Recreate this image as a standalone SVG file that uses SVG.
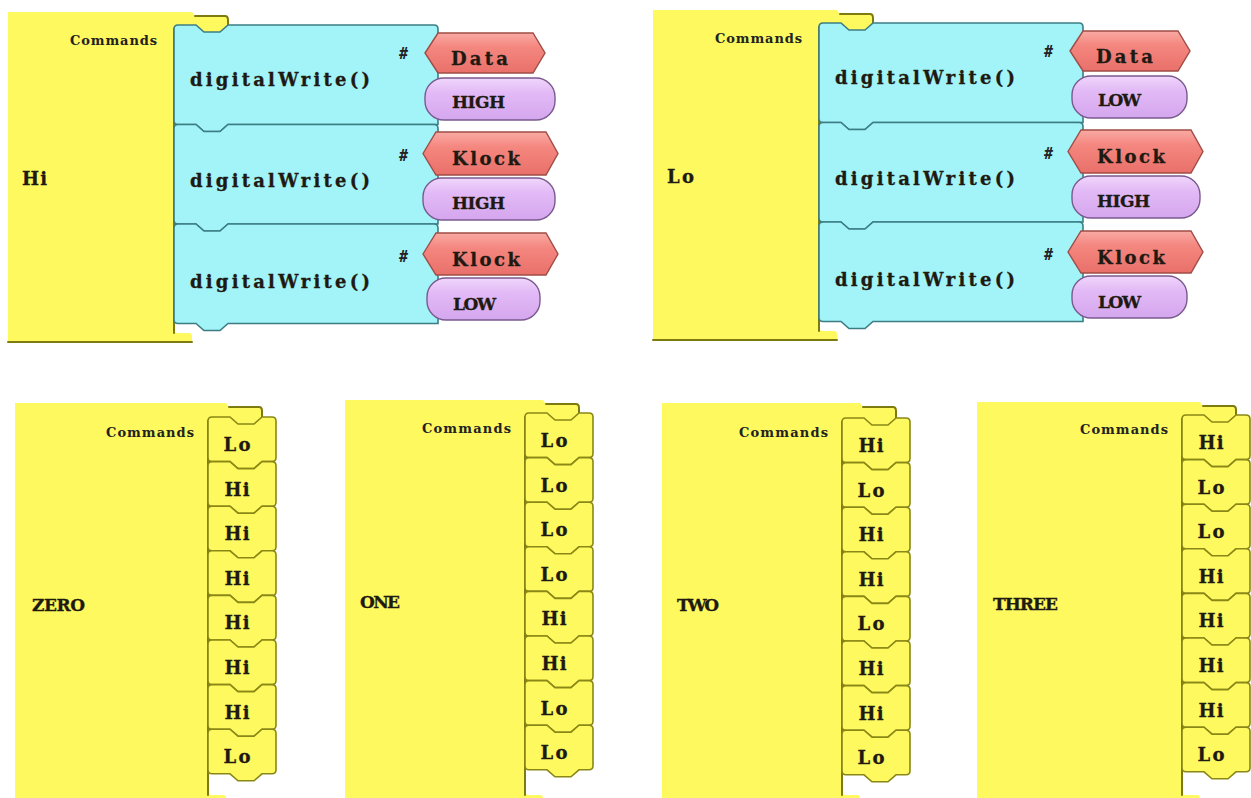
<svg xmlns="http://www.w3.org/2000/svg" width="1251" height="798" viewBox="0 0 1251 798">
<defs>
<style>
.yel{fill:#fdf95e}
.shade{fill:none;stroke:#7d7a10;stroke-width:2;stroke-linecap:round}
.cy{fill:#a2f4f8;stroke:#3c7d84;stroke-width:1.6}
.sb{fill:#fdf95e;stroke:#8a8716;stroke-width:1.6}
.hex{fill:url(#gr);stroke:#a04c46;stroke-width:1.4}
.pill{fill:url(#gp);stroke:#7a5a8e;stroke-width:1.4}
.t{font-family:"DejaVu Serif","Liberation Serif",serif;font-weight:bold;fill:#1e1a12;stroke:#1e1a12;stroke-width:0.3}
.lab{font-size:18px}
.cap{font-size:17px}
.fn{font-size:18px}
.cmd{font-family:"DejaVu Serif","Liberation Serif",serif;font-size:13px;font-weight:bold;fill:#222;text-anchor:end}
.hash{font-family:"DejaVu Sans Mono",monospace;font-size:15px;font-weight:bold;fill:#222}
.mid{text-anchor:middle}
</style>
<linearGradient id="gr" x1="0" y1="0" x2="0" y2="1"><stop offset="0" stop-color="#f9aaa4"/><stop offset="0.35" stop-color="#f4877f"/><stop offset="1" stop-color="#e9706a"/></linearGradient>
<linearGradient id="gp" x1="0" y1="0" x2="0" y2="1"><stop offset="0" stop-color="#f0d6fb"/><stop offset="0.35" stop-color="#e2baf6"/><stop offset="1" stop-color="#d5a6ee"/></linearGradient>
<path id="cyb" class="cy" d="M 0 4 Q 0 0 4 0 H 22 L 30 7 H 46 L 54 0 H 260 Q 264 0 264 4 V 99.5 H 54 L 46 106.5 H 30 L 22 99.5 H 4 Q 0 99.5 0 95.5 Z"/>
<path id="sbk" class="sb" d="M 0 4 Q 0 0 4 0 H 22 L 30 7 H 46 L 54 0 H 64 Q 68 0 68 4 V 40.6 Q 68 44.6 64 44.6 H 54 L 46 51.6 H 30 L 22 44.6 H 4 Q 0 44.6 0 40.6 Z"/>
</defs>
<rect width="1251" height="798" fill="#ffffff"/>

<!-- Top-left: Hi -->
<g id="hi-block">
<path class="yel" d="M 8 12 H 192 L 195 16 H 225 Q 228 16 228 20 V 25 L 220 32 H 204 L 196 25 H 178 Q 174 25 174 29 V 329 Q 174 333 178 333 H 189 Q 192 333 192 336 V 342 H 8 Z"/>
<path class="shade" d="M 174 29 V 333 M 8 342 H 192 M 195 16 H 225 Q 228 16 228 20 V 25"/>
<text class="cmd" x="157" y="45" textLength="87" lengthAdjust="spacing">Commands</text>
<text class="t lab" x="22" y="185" textLength="25" lengthAdjust="spacing">Hi</text>
</g>
<g id="hi-cmd1">
<use href="#cyb" x="174" y="25"/>
<text class="t fn" x="190" y="86" textLength="180" lengthAdjust="spacing">digitalWrite()</text>
<text class="hash" x="399" y="59">#</text>
<polygon class="hex" points="425,53 438,33 533,33 545,53 533,73 438,73"/>
<text class="t lab" x="451" y="65" textLength="57" lengthAdjust="spacing">Data</text>
<rect class="pill" x="425" y="78" width="130" height="42" rx="19"/>
<text class="t cap" x="452" y="108" textLength="53" lengthAdjust="spacing">HIGH</text>
</g>
<g id="hi-cmd2">
<use href="#cyb" x="174" y="124.5"/>
<text class="t fn" x="190" y="187" textLength="180" lengthAdjust="spacing">digitalWrite()</text>
<text class="hash" x="399" y="161">#</text>
<polygon class="hex" points="423,153.5 436,132 546,132 558,153.5 546,175 436,175"/>
<text class="t lab" x="452" y="165" textLength="68" lengthAdjust="spacing">Klock</text>
<rect class="pill" x="423" y="178" width="132" height="42" rx="19"/>
<text class="t cap" x="452" y="209" textLength="53" lengthAdjust="spacing">HIGH</text>
</g>
<g id="hi-cmd3">
<use href="#cyb" x="174" y="224"/>
<text class="t fn" x="190" y="288" textLength="180" lengthAdjust="spacing">digitalWrite()</text>
<text class="hash" x="399" y="262">#</text>
<polygon class="hex" points="423,254 436,233 546,233 558,254 546,275 436,275"/>
<text class="t lab" x="452" y="266" textLength="68" lengthAdjust="spacing">Klock</text>
<rect class="pill" x="427" y="278" width="113" height="42" rx="19"/>
<text class="t cap" x="453" y="310" textLength="43" lengthAdjust="spacing">LOW</text>
</g>

<!-- Top-right: Lo -->
<g transform="translate(645,-2)">
<g id="lo-block">
<path class="yel" d="M 8 12 H 192 L 195 16 H 225 Q 228 16 228 20 V 25 L 220 32 H 204 L 196 25 H 178 Q 174 25 174 29 V 329 Q 174 333 178 333 H 189 Q 192 333 192 336 V 342 H 8 Z"/>
<path class="shade" d="M 174 29 V 333 M 8 342 H 192 M 195 16 H 225 Q 228 16 228 20 V 25"/>
<text class="cmd" x="157" y="45" textLength="87" lengthAdjust="spacing">Commands</text>
<text class="t lab" x="22" y="185" textLength="27" lengthAdjust="spacing">Lo</text>
</g>
<g id="lo-cmd1">
<use href="#cyb" x="174" y="25"/>
<text class="t fn" x="190" y="86" textLength="180" lengthAdjust="spacing">digitalWrite()</text>
<text class="hash" x="399" y="59">#</text>
<polygon class="hex" points="425,53 438,33 533,33 545,53 533,73 438,73"/>
<text class="t lab" x="451" y="65" textLength="57" lengthAdjust="spacing">Data</text>
<rect class="pill" x="427" y="78" width="115" height="42" rx="19"/>
<text class="t cap" x="453" y="108" textLength="43" lengthAdjust="spacing">LOW</text>
</g>
<g id="lo-cmd2">
<use href="#cyb" x="174" y="124.5"/>
<text class="t fn" x="190" y="187" textLength="180" lengthAdjust="spacing">digitalWrite()</text>
<text class="hash" x="399" y="161">#</text>
<polygon class="hex" points="423,153.5 436,132 546,132 558,153.5 546,175 436,175"/>
<text class="t lab" x="452" y="165" textLength="68" lengthAdjust="spacing">Klock</text>
<rect class="pill" x="427" y="178" width="128" height="42" rx="19"/>
<text class="t cap" x="452" y="209" textLength="53" lengthAdjust="spacing">HIGH</text>
</g>
<g id="lo-cmd3">
<use href="#cyb" x="174" y="224"/>
<text class="t fn" x="190" y="288" textLength="180" lengthAdjust="spacing">digitalWrite()</text>
<text class="hash" x="399" y="262">#</text>
<polygon class="hex" points="423,254 436,233 546,233 558,254 546,275 436,275"/>
<text class="t lab" x="452" y="266" textLength="68" lengthAdjust="spacing">Klock</text>
<rect class="pill" x="427" y="278" width="115" height="42" rx="19"/>
<text class="t cap" x="453" y="310" textLength="43" lengthAdjust="spacing">LOW</text>
</g>
</g>

<!-- ZERO -->
<g id="zero-block">
<path class="yel" d="M 15 403 H 226 L 229 407 H 259 Q 262 407 262 411 V 417 L 254 424 H 238 L 230 417 H 212 Q 208 417 208 421 V 791 Q 208 795 212 795 H 223 Q 226 795 226 798 V 800 H 15 Z"/>
<path class="shade" d="M 208 421 V 795 M 229 407 H 259 Q 262 407 262 411 V 417"/>
<text class="cmd" x="194" y="437" textLength="88" lengthAdjust="spacing">Commands</text>
<text class="t cap" x="32" y="611" textLength="53" lengthAdjust="spacing">ZERO</text>
<use href="#sbk" x="208" y="417"/><text class="t lab mid" x="237" y="451" textLength="27" lengthAdjust="spacing">Lo</text>
<use href="#sbk" x="208" y="461.6"/><text class="t lab mid" x="237" y="495.6" textLength="25" lengthAdjust="spacing">Hi</text>
<use href="#sbk" x="208" y="506.2"/><text class="t lab mid" x="237" y="540.2" textLength="25" lengthAdjust="spacing">Hi</text>
<use href="#sbk" x="208" y="550.8"/><text class="t lab mid" x="237" y="584.8" textLength="25" lengthAdjust="spacing">Hi</text>
<use href="#sbk" x="208" y="595.4"/><text class="t lab mid" x="237" y="629.4" textLength="25" lengthAdjust="spacing">Hi</text>
<use href="#sbk" x="208" y="640"/><text class="t lab mid" x="237" y="674" textLength="25" lengthAdjust="spacing">Hi</text>
<use href="#sbk" x="208" y="684.6"/><text class="t lab mid" x="237" y="718.6" textLength="25" lengthAdjust="spacing">Hi</text>
<use href="#sbk" x="208" y="729.2"/><text class="t lab mid" x="237" y="763.2" textLength="27" lengthAdjust="spacing">Lo</text>
</g>

<!-- ONE -->
<g id="one-block">
<path class="yel" d="M 345 400 H 543 L 546 404 H 576 Q 579 404 579 408 V 413 L 571 420 H 555 L 547 413 H 529 Q 525 413 525 417 V 791 Q 525 795 529 795 H 540 Q 543 795 543 798 V 800 H 345 Z"/>
<path class="shade" d="M 525 417 V 795 M 546 404 H 576 Q 579 404 579 408 V 413"/>
<text class="cmd" x="511" y="433" textLength="89" lengthAdjust="spacing">Commands</text>
<text class="t cap" x="360" y="608" textLength="40" lengthAdjust="spacing">ONE</text>
<use href="#sbk" x="525" y="413"/><text class="t lab mid" x="554" y="447" textLength="27" lengthAdjust="spacing">Lo</text>
<use href="#sbk" x="525" y="457.6"/><text class="t lab mid" x="554" y="491.6" textLength="27" lengthAdjust="spacing">Lo</text>
<use href="#sbk" x="525" y="502.2"/><text class="t lab mid" x="554" y="536.2" textLength="27" lengthAdjust="spacing">Lo</text>
<use href="#sbk" x="525" y="546.8"/><text class="t lab mid" x="554" y="580.8" textLength="27" lengthAdjust="spacing">Lo</text>
<use href="#sbk" x="525" y="591.4"/><text class="t lab mid" x="554" y="625.4" textLength="25" lengthAdjust="spacing">Hi</text>
<use href="#sbk" x="525" y="636"/><text class="t lab mid" x="554" y="670" textLength="25" lengthAdjust="spacing">Hi</text>
<use href="#sbk" x="525" y="680.6"/><text class="t lab mid" x="554" y="714.6" textLength="27" lengthAdjust="spacing">Lo</text>
<use href="#sbk" x="525" y="725.2"/><text class="t lab mid" x="554" y="759.2" textLength="27" lengthAdjust="spacing">Lo</text>
</g>

<!-- TWO -->
<g id="two-block">
<path class="yel" d="M 662 403 H 860 L 863 407 H 893 Q 896 407 896 411 V 418 L 888 425 H 872 L 864 418 H 846 Q 842 418 842 422 V 791 Q 842 795 846 795 H 857 Q 860 795 860 798 V 800 H 662 Z"/>
<path class="shade" d="M 842 422 V 795 M 863 407 H 893 Q 896 407 896 411 V 418"/>
<text class="cmd" x="828" y="437" textLength="89" lengthAdjust="spacing">Commands</text>
<text class="t cap" x="677" y="611" textLength="42" lengthAdjust="spacing">TWO</text>
<use href="#sbk" x="842" y="418"/><text class="t lab mid" x="871" y="452" textLength="25" lengthAdjust="spacing">Hi</text>
<use href="#sbk" x="842" y="462.6"/><text class="t lab mid" x="871" y="496.6" textLength="27" lengthAdjust="spacing">Lo</text>
<use href="#sbk" x="842" y="507.2"/><text class="t lab mid" x="871" y="541.2" textLength="25" lengthAdjust="spacing">Hi</text>
<use href="#sbk" x="842" y="551.8"/><text class="t lab mid" x="871" y="585.8" textLength="25" lengthAdjust="spacing">Hi</text>
<use href="#sbk" x="842" y="596.4"/><text class="t lab mid" x="871" y="630.4" textLength="27" lengthAdjust="spacing">Lo</text>
<use href="#sbk" x="842" y="641"/><text class="t lab mid" x="871" y="675" textLength="25" lengthAdjust="spacing">Hi</text>
<use href="#sbk" x="842" y="685.6"/><text class="t lab mid" x="871" y="719.6" textLength="25" lengthAdjust="spacing">Hi</text>
<use href="#sbk" x="842" y="730.2"/><text class="t lab mid" x="871" y="764.2" textLength="27" lengthAdjust="spacing">Lo</text>
</g>

<!-- THREE -->
<g id="three-block">
<path class="yel" d="M 977 402 H 1200 L 1203 406 H 1233 Q 1236 406 1236 410 V 415 L 1228 422 H 1212 L 1204 415 H 1186 Q 1182 415 1182 419 V 791 Q 1182 795 1186 795 H 1197 Q 1200 795 1200 798 V 800 H 977 Z"/>
<path class="shade" d="M 1182 419 V 795 M 1203 406 H 1233 Q 1236 406 1236 410 V 415"/>
<text class="cmd" x="1168" y="434" textLength="88" lengthAdjust="spacing">Commands</text>
<text class="t cap" x="993" y="610" textLength="65" lengthAdjust="spacing">THREE</text>
<use href="#sbk" x="1182" y="415"/><text class="t lab mid" x="1211" y="449" textLength="25" lengthAdjust="spacing">Hi</text>
<use href="#sbk" x="1182" y="459.6"/><text class="t lab mid" x="1211" y="493.6" textLength="27" lengthAdjust="spacing">Lo</text>
<use href="#sbk" x="1182" y="504.2"/><text class="t lab mid" x="1211" y="538.2" textLength="27" lengthAdjust="spacing">Lo</text>
<use href="#sbk" x="1182" y="548.8"/><text class="t lab mid" x="1211" y="582.8" textLength="25" lengthAdjust="spacing">Hi</text>
<use href="#sbk" x="1182" y="593.4"/><text class="t lab mid" x="1211" y="627.4" textLength="25" lengthAdjust="spacing">Hi</text>
<use href="#sbk" x="1182" y="638"/><text class="t lab mid" x="1211" y="672" textLength="25" lengthAdjust="spacing">Hi</text>
<use href="#sbk" x="1182" y="682.6"/><text class="t lab mid" x="1211" y="716.6" textLength="25" lengthAdjust="spacing">Hi</text>
<use href="#sbk" x="1182" y="727.2"/><text class="t lab mid" x="1211" y="761.2" textLength="27" lengthAdjust="spacing">Lo</text>
</g>
<g id="connectors"></g>
</svg>
